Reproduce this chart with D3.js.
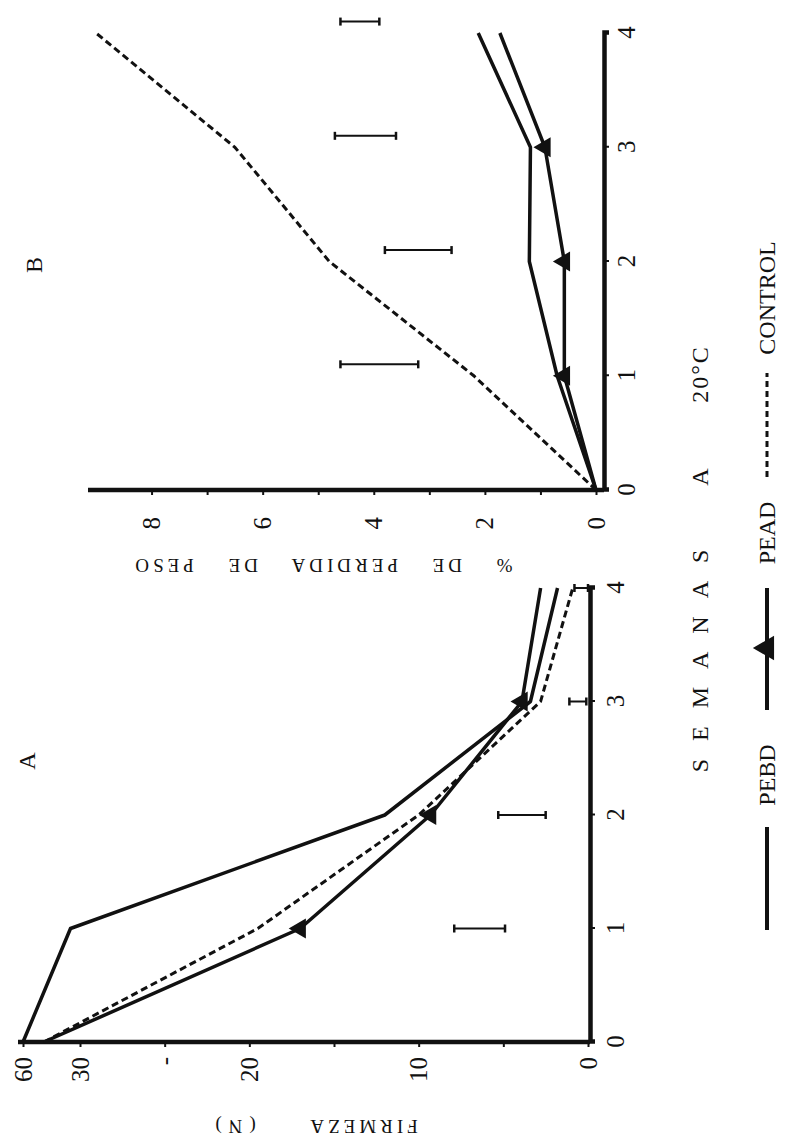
<!DOCTYPE html>
<html><head><meta charset="utf-8">
<script src="https://cdn.jsdelivr.net/npm/d3@7"></script>
<style>
body{margin:0;background:#fff;}
svg{display:block;background:#fff;}
text{font-family:"Liberation Serif","DejaVu Serif",serif;fill:#111;}
</style></head><body>
<svg id="chart" width="785" height="1140"></svg>
<script>
// ---------- data ----------
const weeks = [0, 1, 2, 3, 4];
const weekTickLabels = ["0", "1", "2", "3", "4"];

// Panel A: firmeza (N)
const firmPEBD    = [60, 35, 12, 3.4, 1.8];
const firmPEAD    = [49, 17, 9.3, 3.9, 2.8];
const firmControl = [49, 19.5, 10, 2.8, 0.9];
const firmLsdWeeks = [1, 2, 3, 4];
const firmLsdLow   = [4.9, 2.5, 0.1, 0.0];
const firmLsdHigh  = [7.9, 5.3, 1.1, 0.8];
const firmTickValues = [0, 5, 10, 15, 20, 25, 30, 60];
const firmTickLabels = ["0", "", "10", "", "20", "-", "30", "60"];

// Panel B: % de perdida de peso
const lossPEBD    = [0, 0.7, 1.2, 1.18, 2.12];
const lossPEAD    = [0, 0.57, 0.57, 0.92, 1.73];
const lossControl = [0, 2.2, 4.8, 6.5, 9.0];
const lossLsdWeeks = [1.1, 2.1, 3.1, 4.1];
const lossLsdLow   = [3.2, 2.6, 3.6, 3.9];
const lossLsdHigh  = [4.6, 3.8, 4.7, 4.6];
const lossTickValues = [0, 1, 2, 3, 4, 5, 6, 7, 8];
const lossTickLabels = ["0", "", "2", "", "4", "", "6", "", "8"];

const seriesNames = ["PEBD", "PEAD", "CONTROL"];
const panelLabels = ["A", "B"];
const xTitleWords = ["SEMANAS", "A", "20°C"];
const yTitleA = ["FIRMEZA", "(N)"];
const yTitleB = "% DE PERDIDA DE PESO";

// ---------- drawing (upright figure, rotated -90deg as in the scan) ----------
const svg = d3.select("#chart");
const g = svg.append("g").attr("transform", "translate(0,1140) rotate(-90)");

const AX = 4.5, LW = 3.5, TICKFS = "25px";

function styleAxis(sel) {
  sel.select(".domain").attr("stroke", "#111").attr("stroke-width", AX);
  sel.selectAll(".tick line").attr("stroke", "#111").attr("stroke-width", 2);
  sel.selectAll(".tick text").style("font-size", TICKFS).attr("fill", "#111");
}

function panel(opts) {
  const { xs, ys, yAxisY0, xAxisY, series, lsd, yTicks, yLabels, yPad, xPad } = opts;
  const gx = g.append("g").attr("transform", `translate(0,${xAxisY})`)
    .call(d3.axisBottom(xs).tickValues(weeks).tickFormat((d, i) => weekTickLabels[i])
      .tickSizeOuter(0).tickSize(5).tickPadding(xPad));
  styleAxis(gx);
  const gy = g.append("g").attr("transform", `translate(${xs(0)},0)`)
    .call(d3.axisLeft(ys).tickValues(yTicks).tickFormat((d, i) => yLabels[i])
      .tickSizeOuter(0).tickSize(5).tickPadding(yPad));
  styleAxis(gy);
  gy.select(".domain").attr("d", `M0,${xAxisY}V${yAxisY0}`);

  // LSD bars
  lsd.weeks.forEach((w, i) => {
    const x = xs(w), y1 = ys(lsd.low[i]), y2 = ys(lsd.high[i]);
    g.append("line").attr("x1", x).attr("x2", x).attr("y1", y1).attr("y2", y2)
      .attr("stroke", "#111").attr("stroke-width", 2);
    [y1, y2].forEach(yy => g.append("line").attr("x1", x - 4).attr("x2", x + 4)
      .attr("y1", yy).attr("y2", yy).attr("stroke", "#111").attr("stroke-width", 2.5));
  });

  const line = d3.line().x((d, i) => xs(weeks[i])).y(d => ys(d));
  g.append("path").attr("d", line(series[0])).attr("fill", "none")
    .attr("stroke", "#111").attr("stroke-width", LW).attr("stroke-linejoin", "round");
  g.append("path").attr("d", line(series[2])).attr("fill", "none")
    .attr("stroke", "#111").attr("stroke-width", 3).attr("stroke-dasharray", "7,4");
  g.append("path").attr("d", line(series[1])).attr("fill", "none")
    .attr("stroke", "#111").attr("stroke-width", LW).attr("stroke-linejoin", "round");
  const tri = d3.symbol().type(d3.symbolTriangle).size(170);
  series[1].forEach((v, i) => {
    if (i === 0 || i === series[1].length - 1) return;
    g.append("path").attr("d", tri()).attr("fill", "#111")
      .attr("transform", `translate(${xs(weeks[i])},${ys(v)})`);
  });
}

// Panel A
const xA = d3.scaleLinear().domain([0, 4]).range([98, 552]);
const yA = d3.scaleLinear().domain([0, 30, 60]).range([588, 80, 23]);
panel({ xs: xA, ys: yA, yAxisY0: 18, xAxisY: 590,
  series: [firmPEBD, firmPEAD, firmControl],
  lsd: { weeks: firmLsdWeeks, low: firmLsdLow, high: firmLsdHigh },
  yTicks: firmTickValues, yLabels: firmTickLabels, yPad: 10, xPad: 11 });

// Panel B
const xB = d3.scaleLinear().domain([0, 4]).range([650, 1107]);
const yB = d3.scaleLinear().domain([0, 9]).range([596, 96]);
panel({ xs: xB, ys: yB, yAxisY0: 88, xAxisY: 604,
  series: [lossPEBD, lossPEAD, lossControl],
  lsd: { weeks: lossLsdWeeks, low: lossLsdLow, high: lossLsdHigh },
  yTicks: lossTickValues, yLabels: lossTickLabels, yPad: 22, xPad: 8 });

// panel labels
g.append("text").attr("x", 379).attr("y", 27).attr("text-anchor", "middle")
  .attr("dominant-baseline", "central").style("font-size", "24px").text(panelLabels[0]);
g.append("text").attr("x", 875).attr("y", 34).attr("text-anchor", "middle")
  .attr("dominant-baseline", "central").style("font-size", "24px").text(panelLabels[1]);

// y titles
function vText(x, y, txt, fs, ls, ws) {
  g.append("text").attr("transform", `translate(${x},${y}) rotate(-90)`)
    .attr("text-anchor", "middle").attr("dominant-baseline", "central")
    .style("font-size", fs + "px").style("letter-spacing", ls + "px").style("word-spacing", ws + "px")
    .text(txt);
}
vText(14, 362, yTitleA[0], 19, 4, 0);
vText(14, 232, yTitleA[1], 19, 7, 0);
vText(575, 322, yTitleB, 19, 4, 22);

// x title
const xt = [[488, 18, 24], [663, 0, 24], [766, 2, 24]];
xTitleWords.forEach((w, i) => {
  g.append("text").attr("x", xt[i][0]).attr("y", 700).attr("text-anchor", "middle")
    .attr("dominant-baseline", "central").style("font-size", xt[i][2] + "px")
    .style("letter-spacing", xt[i][1] + "px").text(w);
});

// legend
const LY = 767;
const leg = g.append("g");
leg.append("line").attr("x1", 210).attr("x2", 313).attr("y1", LY).attr("y2", LY)
  .attr("stroke", "#111").attr("stroke-width", 4);
leg.append("line").attr("x1", 430).attr("x2", 552).attr("y1", LY).attr("y2", LY)
  .attr("stroke", "#111").attr("stroke-width", 4);
leg.append("path").attr("d", d3.symbol().type(d3.symbolTriangle).size(260)())
  .attr("fill", "#111").attr("transform", `translate(492,${LY})`);
leg.append("line").attr("x1", 663).attr("x2", 767).attr("y1", LY).attr("y2", LY)
  .attr("stroke", "#111").attr("stroke-width", 3).attr("stroke-dasharray", "6,4");
[[365, seriesNames[0]], [607, seriesNames[1]], [842, seriesNames[2]]].forEach(([x, t]) => {
  leg.append("text").attr("x", x).attr("y", LY).attr("text-anchor", "middle")
    .attr("dominant-baseline", "central").style("font-size", "24px").text(t);
});
</script>
</body></html>
